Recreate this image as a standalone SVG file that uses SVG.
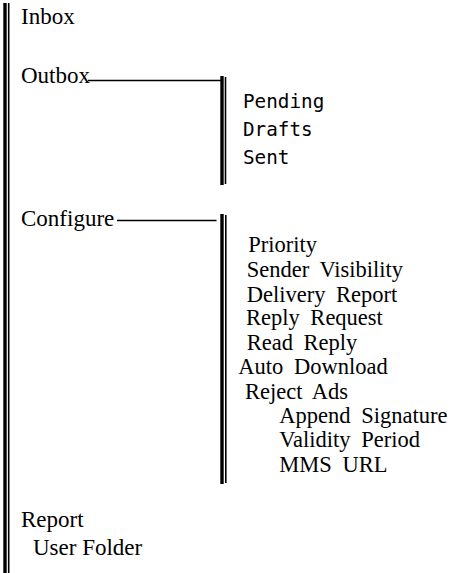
<svg xmlns="http://www.w3.org/2000/svg" width="451" height="573" viewBox="0 0 451 573">
<style>
.t{font-family:"Liberation Serif","Times New Roman",serif;font-size:23px;fill:#000}
.s{font-family:"Liberation Serif","Times New Roman",serif;font-size:22.5px;fill:#000;word-spacing:5px}
.m{font-family:"DejaVu Sans Mono",monospace;font-size:19.3px;fill:#000}
.thick{stroke:#000;stroke-width:3.4;fill:none}
.thin{stroke:#000;stroke-width:1.6;fill:none}
.ln{stroke:#000;stroke-width:1.5;fill:none}
</style>
<rect width="451" height="573" fill="#fff"/>
<g id="connectors">
<line class="thick" x1="5" y1="3" x2="5" y2="573"/>
<line class="thin" x1="8.7" y1="3" x2="8.7" y2="573"/>
<line class="ln" x1="88" y1="80.5" x2="221" y2="80.5"/>
<line class="thick" x1="222" y1="76" x2="222" y2="185"/>
<line class="thin" x1="225.5" y1="77" x2="225.5" y2="184"/>
<line class="ln" x1="117" y1="220.5" x2="216.5" y2="220.5"/>
<line class="thick" x1="222" y1="214" x2="222" y2="484"/>
<line class="thin" x1="225.8" y1="215" x2="225.8" y2="483"/>
</g>
<g id="inbox"><text class="t" x="21" y="24">Inbox</text></g>
<g id="outbox"><text class="t" x="21" y="83">Outbox</text></g>
<g id="outbox-items">
<text class="m" x="243" y="108">Pending</text>
<text class="m" x="243" y="136">Drafts</text>
<text class="m" x="243" y="164">Sent</text>
</g>
<g id="configure"><text class="t" x="21" y="226">Configure</text></g>
<g id="configure-items">
<text class="s" x="248.3" y="251.7">Priority</text>
<text class="s" x="246.7" y="277">Sender Visibility</text>
<text class="s" x="246.7" y="301.5">Delivery Report</text>
<text class="s" x="246" y="325">Reply Request</text>
<text class="s" x="246.7" y="349.5">Read Reply</text>
<text class="s" x="238.3" y="374">Auto Download</text>
<text class="s" x="245" y="398.5">Reject Ads</text>
<text class="s" x="279.3" y="423">Append Signature</text>
<text class="s" x="279.3" y="447">Validity Period</text>
<text class="s" x="279.3" y="471.5">MMS URL</text>
</g>
<g id="report"><text class="t" x="21" y="526.5">Report</text></g>
<g id="user-folder"><text class="t" x="33" y="555">User Folder</text></g>
</svg>
